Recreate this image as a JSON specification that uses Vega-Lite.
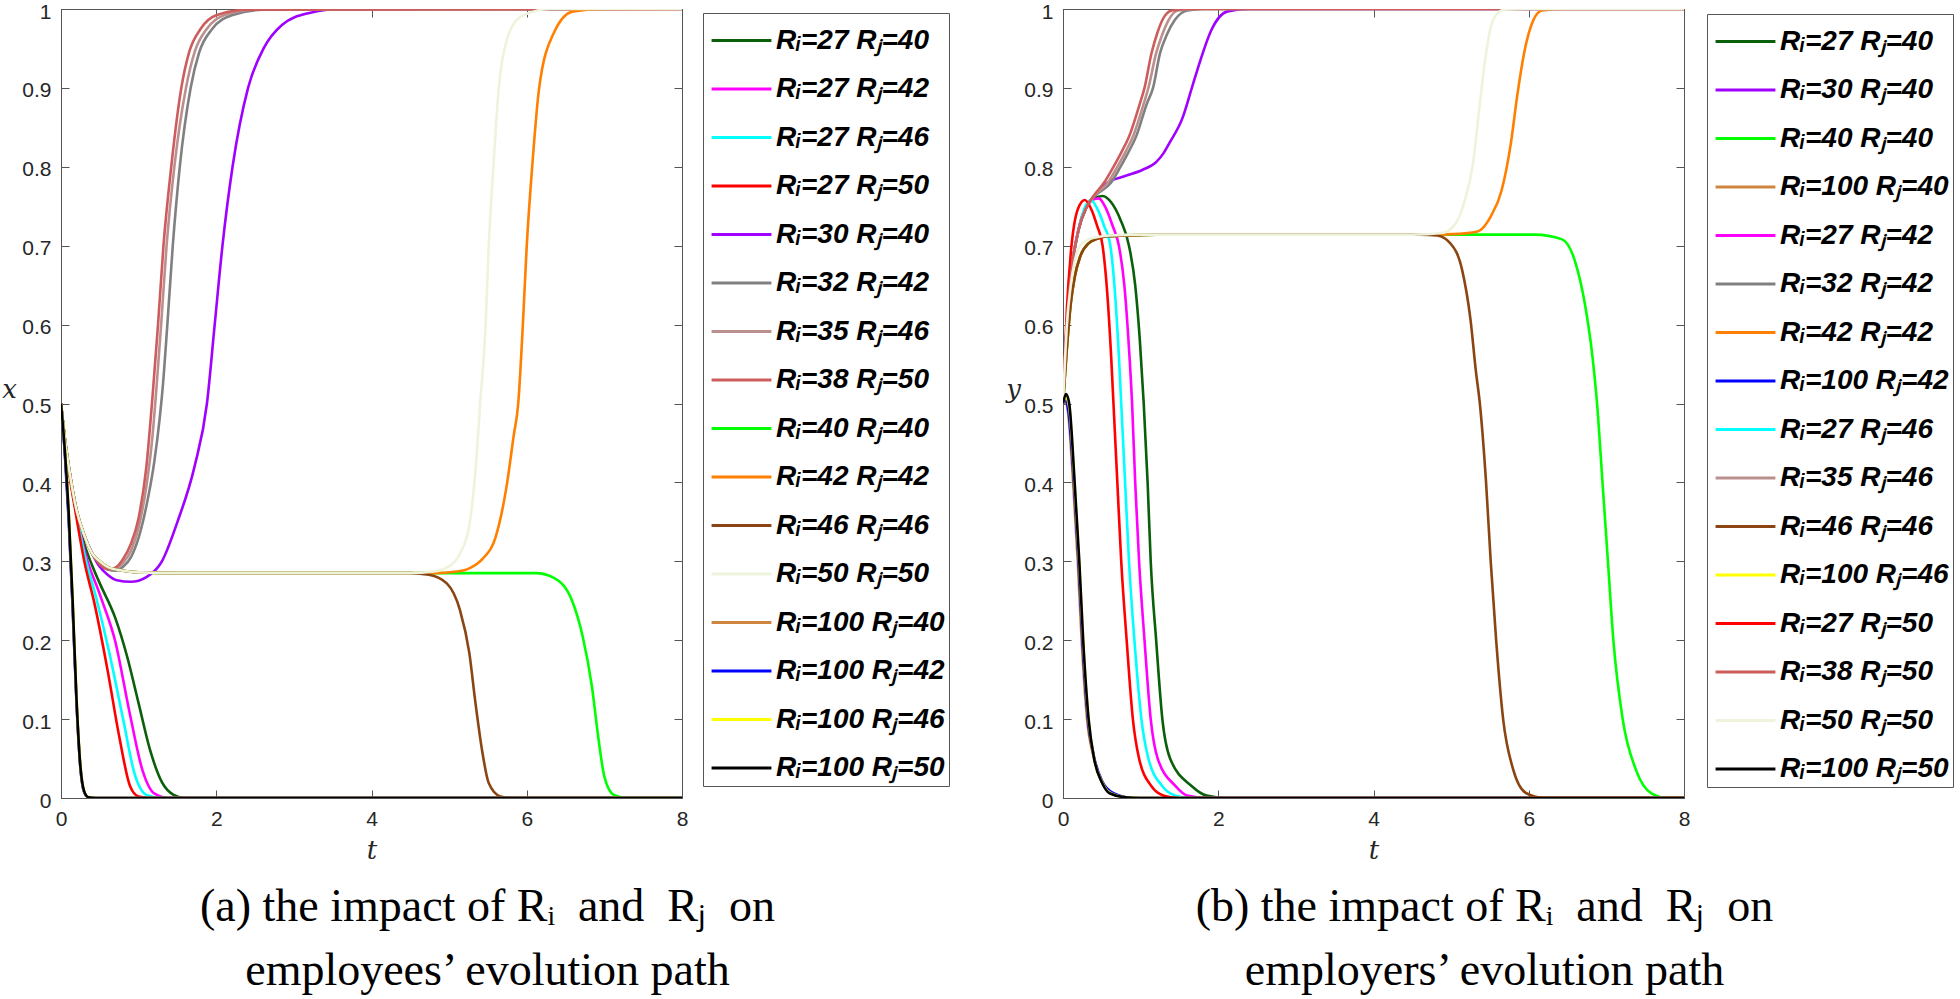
{
"$schema": "https://vega.github.io/schema/vega-lite/v6.json",
"padding": {"left": 1, "top": 0, "right": 0, "bottom": 0},
"background": "white",
"spacing": 55,
"config": {
 "view": {"stroke": "#555", "strokeWidth": 1},
 "axis": {"grid": false, "domainColor": "#555", "tickColor": "#555", "labelFont": "Liberation Sans", "labelFontSize": 21, "labelColor": "#262626", "tickSize": -8, "labelPadding": 18, "labelFlush": false, "labelOverlap": false, "titleFont": "DejaVu Serif", "titleFontStyle": "italic", "titleFontWeight": "normal", "titleFontSize": 26, "titleColor": "#262626", "format": "~g"},
 "legend": {"strokeColor": "#555", "fillColor": "white", "padding": 3.5, "symbolType": "M-1.33,0H1.33", "symbolSize": 2025, "symbolStrokeWidth": 3, "symbolOffset": 11, "labelOffset": 10.5, "rowPadding": 10.5, "labelFont": "Liberation Sans", "labelFontSize": 28, "labelFontWeight": "bold", "labelFontStyle": "italic", "labelColor": "black", "labelLimit": 0, "symbolLimit": 0},
 "title": {"font": "Liberation Serif", "fontSize": 46, "fontWeight": "normal", "color": "black", "lineHeight": 64, "orient": "bottom", "anchor": "middle", "baseline": "top", "offset": 22}
},
"datasets": {
"a": [
{"s":"27-40","t":0,"v":0.5},{"s":"27-40","t":0.05,"v":0.455},{"s":"27-40","t":0.1,"v":0.42},{"s":"27-40","t":0.2,"v":0.364},{"s":"27-40","t":0.3,"v":0.322},{"s":"27-40","t":0.4,"v":0.295},{"s":"27-40","t":0.5,"v":0.272},{"s":"27-40","t":0.7,"v":0.228},{"s":"27-40","t":0.85,"v":0.18},{"s":"27-40","t":1.0,"v":0.12},{"s":"27-40","t":1.15,"v":0.06},{"s":"27-40","t":1.3,"v":0.02},{"s":"27-40","t":1.45,"v":0.004},{"s":"27-40","t":1.6,"v":0},{"s":"27-40","t":8,"v":0},
{"s":"27-42","t":0,"v":0.5},{"s":"27-42","t":0.05,"v":0.455},{"s":"27-42","t":0.1,"v":0.419},{"s":"27-42","t":0.2,"v":0.362},{"s":"27-42","t":0.3,"v":0.315},{"s":"27-42","t":0.5,"v":0.258},{"s":"27-42","t":0.7,"v":0.198},{"s":"27-42","t":0.88,"v":0.11},{"s":"27-42","t":1.05,"v":0.035},{"s":"27-42","t":1.2,"v":0.006},{"s":"27-42","t":1.4,"v":0},{"s":"27-42","t":8,"v":0},
{"s":"27-46","t":0,"v":0.5},{"s":"27-46","t":0.05,"v":0.455},{"s":"27-46","t":0.1,"v":0.418},{"s":"27-46","t":0.2,"v":0.36},{"s":"27-46","t":0.3,"v":0.31},{"s":"27-46","t":0.45,"v":0.255},{"s":"27-46","t":0.62,"v":0.185},{"s":"27-46","t":0.8,"v":0.1},{"s":"27-46","t":0.95,"v":0.03},{"s":"27-46","t":1.1,"v":0.004},{"s":"27-46","t":1.3,"v":0},{"s":"27-46","t":8,"v":0},
{"s":"27-50","t":0,"v":0.5},{"s":"27-50","t":0.05,"v":0.452},{"s":"27-50","t":0.1,"v":0.415},{"s":"27-50","t":0.2,"v":0.355},{"s":"27-50","t":0.3,"v":0.3},{"s":"27-50","t":0.43,"v":0.247},{"s":"27-50","t":0.6,"v":0.162},{"s":"27-50","t":0.75,"v":0.078},{"s":"27-50","t":0.89,"v":0.015},{"s":"27-50","t":1.0,"v":0.002},{"s":"27-50","t":1.2,"v":0},{"s":"27-50","t":8,"v":0},
{"s":"30-40","t":0,"v":0.5},{"s":"30-40","t":0.05,"v":0.455},{"s":"30-40","t":0.1,"v":0.42},{"s":"30-40","t":0.2,"v":0.365},{"s":"30-40","t":0.3,"v":0.333},{"s":"30-40","t":0.4,"v":0.31},{"s":"30-40","t":0.5,"v":0.293},{"s":"30-40","t":0.6,"v":0.283},{"s":"30-40","t":0.72,"v":0.276},{"s":"30-40","t":0.9,"v":0.274},{"s":"30-40","t":1.1,"v":0.28},{"s":"30-40","t":1.3,"v":0.3},{"s":"30-40","t":1.5,"v":0.35},{"s":"30-40","t":1.72,"v":0.42},{"s":"30-40","t":1.88,"v":0.5},{"s":"30-40","t":1.98,"v":0.6},{"s":"30-40","t":2.08,"v":0.7},{"s":"30-40","t":2.21,"v":0.8},{"s":"30-40","t":2.41,"v":0.9},{"s":"30-40","t":2.61,"v":0.95},{"s":"30-40","t":2.85,"v":0.98},{"s":"30-40","t":3.2,"v":0.995},{"s":"30-40","t":3.6,"v":1},{"s":"30-40","t":8,"v":1},
{"s":"32-42","t":0,"v":0.5},{"s":"32-42","t":0.05,"v":0.455},{"s":"32-42","t":0.1,"v":0.42},{"s":"32-42","t":0.2,"v":0.365},{"s":"32-42","t":0.3,"v":0.333},{"s":"32-42","t":0.4,"v":0.31},{"s":"32-42","t":0.5,"v":0.297},{"s":"32-42","t":0.6,"v":0.29},{"s":"32-42","t":0.7,"v":0.288},{"s":"32-42","t":0.8,"v":0.293},{"s":"32-42","t":0.9,"v":0.305},{"s":"32-42","t":1.0,"v":0.33},{"s":"32-42","t":1.1,"v":0.37},{"s":"32-42","t":1.2,"v":0.425},{"s":"32-42","t":1.27,"v":0.48},{"s":"32-42","t":1.31,"v":0.52},{"s":"32-42","t":1.37,"v":0.6},{"s":"32-42","t":1.44,"v":0.7},{"s":"32-42","t":1.53,"v":0.8},{"s":"32-42","t":1.67,"v":0.9},{"s":"32-42","t":1.78,"v":0.945},{"s":"32-42","t":1.95,"v":0.975},{"s":"32-42","t":2.2,"v":0.992},{"s":"32-42","t":2.6,"v":0.999},{"s":"32-42","t":8,"v":1},
{"s":"35-46","t":0,"v":0.5},{"s":"35-46","t":0.05,"v":0.455},{"s":"35-46","t":0.1,"v":0.42},{"s":"35-46","t":0.2,"v":0.365},{"s":"35-46","t":0.3,"v":0.333},{"s":"35-46","t":0.4,"v":0.31},{"s":"35-46","t":0.5,"v":0.297},{"s":"35-46","t":0.6,"v":0.29},{"s":"35-46","t":0.7,"v":0.29},{"s":"35-46","t":0.8,"v":0.298},{"s":"35-46","t":0.9,"v":0.313},{"s":"35-46","t":1.0,"v":0.343},{"s":"35-46","t":1.1,"v":0.395},{"s":"35-46","t":1.17,"v":0.45},{"s":"35-46","t":1.23,"v":0.52},{"s":"35-46","t":1.29,"v":0.6},{"s":"35-46","t":1.36,"v":0.7},{"s":"35-46","t":1.46,"v":0.8},{"s":"35-46","t":1.61,"v":0.9},{"s":"35-46","t":1.72,"v":0.945},{"s":"35-46","t":1.88,"v":0.975},{"s":"35-46","t":2.1,"v":0.992},{"s":"35-46","t":2.5,"v":0.999},{"s":"35-46","t":8,"v":1},
{"s":"38-50","t":0,"v":0.5},{"s":"38-50","t":0.05,"v":0.455},{"s":"38-50","t":0.1,"v":0.42},{"s":"38-50","t":0.2,"v":0.365},{"s":"38-50","t":0.3,"v":0.333},{"s":"38-50","t":0.4,"v":0.31},{"s":"38-50","t":0.5,"v":0.296},{"s":"38-50","t":0.6,"v":0.29},{"s":"38-50","t":0.7,"v":0.292},{"s":"38-50","t":0.8,"v":0.303},{"s":"38-50","t":0.9,"v":0.322},{"s":"38-50","t":1.0,"v":0.355},{"s":"38-50","t":1.1,"v":0.42},{"s":"38-50","t":1.18,"v":0.51},{"s":"38-50","t":1.25,"v":0.6},{"s":"38-50","t":1.32,"v":0.7},{"s":"38-50","t":1.42,"v":0.8},{"s":"38-50","t":1.55,"v":0.9},{"s":"38-50","t":1.65,"v":0.945},{"s":"38-50","t":1.8,"v":0.975},{"s":"38-50","t":2.0,"v":0.992},{"s":"38-50","t":2.4,"v":0.999},{"s":"38-50","t":8,"v":1},
{"s":"40-40","t":0,"v":0.5},{"s":"40-40","t":0.05,"v":0.455},{"s":"40-40","t":0.1,"v":0.42},{"s":"40-40","t":0.2,"v":0.365},{"s":"40-40","t":0.3,"v":0.333},{"s":"40-40","t":0.4,"v":0.31},{"s":"40-40","t":0.5,"v":0.3},{"s":"40-40","t":0.6,"v":0.293},{"s":"40-40","t":0.8,"v":0.288},{"s":"40-40","t":1.0,"v":0.286},{"s":"40-40","t":1.5,"v":0.285},{"s":"40-40","t":3,"v":0.285},{"s":"40-40","t":5,"v":0.285},{"s":"40-40","t":6.12,"v":0.285},{"s":"40-40","t":6.35,"v":0.279},{"s":"40-40","t":6.58,"v":0.251},{"s":"40-40","t":6.72,"v":0.205},{"s":"40-40","t":6.84,"v":0.141},{"s":"40-40","t":6.92,"v":0.078},{"s":"40-40","t":7.0,"v":0.027},{"s":"40-40","t":7.12,"v":0.004},{"s":"40-40","t":7.3,"v":0},{"s":"40-40","t":8,"v":0},
{"s":"42-42","t":0,"v":0.5},{"s":"42-42","t":0.05,"v":0.455},{"s":"42-42","t":0.1,"v":0.42},{"s":"42-42","t":0.2,"v":0.365},{"s":"42-42","t":0.3,"v":0.333},{"s":"42-42","t":0.4,"v":0.31},{"s":"42-42","t":0.5,"v":0.3},{"s":"42-42","t":0.6,"v":0.293},{"s":"42-42","t":0.8,"v":0.288},{"s":"42-42","t":1.0,"v":0.286},{"s":"42-42","t":1.5,"v":0.285},{"s":"42-42","t":3,"v":0.285},{"s":"42-42","t":4.8,"v":0.285},{"s":"42-42","t":5.1,"v":0.287},{"s":"42-42","t":5.26,"v":0.291},{"s":"42-42","t":5.43,"v":0.303},{"s":"42-42","t":5.6,"v":0.331},{"s":"42-42","t":5.74,"v":0.395},{"s":"42-42","t":5.83,"v":0.458},{"s":"42-42","t":5.89,"v":0.5},{"s":"42-42","t":5.95,"v":0.6},{"s":"42-42","t":6.0,"v":0.7},{"s":"42-42","t":6.07,"v":0.8},{"s":"42-42","t":6.16,"v":0.9},{"s":"42-42","t":6.35,"v":0.97},{"s":"42-42","t":6.6,"v":0.997},{"s":"42-42","t":7,"v":1},{"s":"42-42","t":8,"v":1},
{"s":"46-46","t":0,"v":0.5},{"s":"46-46","t":0.05,"v":0.455},{"s":"46-46","t":0.1,"v":0.42},{"s":"46-46","t":0.2,"v":0.365},{"s":"46-46","t":0.3,"v":0.333},{"s":"46-46","t":0.4,"v":0.31},{"s":"46-46","t":0.5,"v":0.3},{"s":"46-46","t":0.6,"v":0.293},{"s":"46-46","t":0.8,"v":0.288},{"s":"46-46","t":1.0,"v":0.286},{"s":"46-46","t":1.5,"v":0.285},{"s":"46-46","t":3,"v":0.285},{"s":"46-46","t":4.5,"v":0.285},{"s":"46-46","t":4.74,"v":0.283},{"s":"46-46","t":4.97,"v":0.272},{"s":"46-46","t":5.14,"v":0.238},{"s":"46-46","t":5.26,"v":0.184},{"s":"46-46","t":5.34,"v":0.12},{"s":"46-46","t":5.43,"v":0.057},{"s":"46-46","t":5.51,"v":0.019},{"s":"46-46","t":5.66,"v":0.002},{"s":"46-46","t":5.8,"v":0},{"s":"46-46","t":8,"v":0},
{"s":"50-50","t":0,"v":0.5},{"s":"50-50","t":0.05,"v":0.455},{"s":"50-50","t":0.1,"v":0.42},{"s":"50-50","t":0.2,"v":0.365},{"s":"50-50","t":0.3,"v":0.333},{"s":"50-50","t":0.4,"v":0.31},{"s":"50-50","t":0.5,"v":0.3},{"s":"50-50","t":0.6,"v":0.293},{"s":"50-50","t":0.8,"v":0.288},{"s":"50-50","t":1.0,"v":0.286},{"s":"50-50","t":1.5,"v":0.285},{"s":"50-50","t":3,"v":0.285},{"s":"50-50","t":4.5,"v":0.285},{"s":"50-50","t":4.8,"v":0.287},{"s":"50-50","t":4.97,"v":0.292},{"s":"50-50","t":5.14,"v":0.31},{"s":"50-50","t":5.26,"v":0.345},{"s":"50-50","t":5.34,"v":0.416},{"s":"50-50","t":5.4,"v":0.5},{"s":"50-50","t":5.47,"v":0.6},{"s":"50-50","t":5.51,"v":0.7},{"s":"50-50","t":5.57,"v":0.8},{"s":"50-50","t":5.64,"v":0.9},{"s":"50-50","t":5.74,"v":0.96},{"s":"50-50","t":5.92,"v":0.99},{"s":"50-50","t":6.3,"v":1},{"s":"50-50","t":8,"v":1},
{"s":"100-40","t":0,"v":0.5},{"s":"100-40","t":0.05,"v":0.438},{"s":"100-40","t":0.1,"v":0.355},{"s":"100-40","t":0.15,"v":0.245},{"s":"100-40","t":0.2,"v":0.122},{"s":"100-40","t":0.25,"v":0.039},{"s":"100-40","t":0.3,"v":0.007},{"s":"100-40","t":0.35,"v":0.001},{"s":"100-40","t":0.45,"v":0},{"s":"100-40","t":8,"v":0},
{"s":"100-42","t":0,"v":0.5},{"s":"100-42","t":0.05,"v":0.435},{"s":"100-42","t":0.1,"v":0.35},{"s":"100-42","t":0.15,"v":0.24},{"s":"100-42","t":0.2,"v":0.12},{"s":"100-42","t":0.25,"v":0.038},{"s":"100-42","t":0.3,"v":0.007},{"s":"100-42","t":0.35,"v":0.001},{"s":"100-42","t":0.45,"v":0},{"s":"100-42","t":8,"v":0},
{"s":"100-46","t":0,"v":0.5},{"s":"100-46","t":0.05,"v":0.442},{"s":"100-46","t":0.1,"v":0.362},{"s":"100-46","t":0.15,"v":0.252},{"s":"100-46","t":0.2,"v":0.127},{"s":"100-46","t":0.25,"v":0.041},{"s":"100-46","t":0.3,"v":0.008},{"s":"100-46","t":0.35,"v":0.001},{"s":"100-46","t":0.45,"v":0},{"s":"100-46","t":8,"v":0},
{"s":"100-50","t":0,"v":0.5},{"s":"100-50","t":0.05,"v":0.44},{"s":"100-50","t":0.1,"v":0.36},{"s":"100-50","t":0.15,"v":0.25},{"s":"100-50","t":0.2,"v":0.125},{"s":"100-50","t":0.25,"v":0.04},{"s":"100-50","t":0.3,"v":0.008},{"s":"100-50","t":0.35,"v":0.001},{"s":"100-50","t":0.45,"v":0},{"s":"100-50","t":8,"v":0}
],
"b": [
{"s":"27-40","t":0,"v":0.5},{"s":"27-40","t":0.05,"v":0.6},{"s":"27-40","t":0.1,"v":0.66},{"s":"27-40","t":0.2,"v":0.72},{"s":"27-40","t":0.3,"v":0.75},{"s":"27-40","t":0.4,"v":0.76},{"s":"27-40","t":0.51,"v":0.763},{"s":"27-40","t":0.62,"v":0.755},{"s":"27-40","t":0.74,"v":0.733},{"s":"27-40","t":0.85,"v":0.7},{"s":"27-40","t":0.93,"v":0.65},{"s":"27-40","t":0.99,"v":0.58},{"s":"27-40","t":1.04,"v":0.5},{"s":"27-40","t":1.09,"v":0.4},{"s":"27-40","t":1.13,"v":0.3},{"s":"27-40","t":1.2,"v":0.2},{"s":"27-40","t":1.28,"v":0.1},{"s":"27-40","t":1.38,"v":0.05},{"s":"27-40","t":1.66,"v":0.015},{"s":"27-40","t":1.85,"v":0.003},{"s":"27-40","t":2.1,"v":0},{"s":"27-40","t":8,"v":0},
{"s":"30-40","t":0,"v":0.5},{"s":"30-40","t":0.05,"v":0.6},{"s":"30-40","t":0.1,"v":0.66},{"s":"30-40","t":0.2,"v":0.72},{"s":"30-40","t":0.3,"v":0.748},{"s":"30-40","t":0.4,"v":0.762},{"s":"30-40","t":0.56,"v":0.779},{"s":"30-40","t":0.79,"v":0.788},{"s":"30-40","t":1.02,"v":0.796},{"s":"30-40","t":1.2,"v":0.806},{"s":"30-40","t":1.3,"v":0.818},{"s":"30-40","t":1.37,"v":0.83},{"s":"30-40","t":1.54,"v":0.862},{"s":"30-40","t":1.66,"v":0.9},{"s":"30-40","t":1.77,"v":0.935},{"s":"30-40","t":1.91,"v":0.973},{"s":"30-40","t":2.12,"v":0.997},{"s":"30-40","t":2.4,"v":1},{"s":"30-40","t":8,"v":1},
{"s":"40-40","t":0,"v":0.5},{"s":"40-40","t":0.05,"v":0.57},{"s":"40-40","t":0.1,"v":0.627},{"s":"40-40","t":0.15,"v":0.66},{"s":"40-40","t":0.22,"v":0.686},{"s":"40-40","t":0.33,"v":0.703},{"s":"40-40","t":0.45,"v":0.709},{"s":"40-40","t":0.56,"v":0.712},{"s":"40-40","t":0.8,"v":0.713},{"s":"40-40","t":1.2,"v":0.714},{"s":"40-40","t":3,"v":0.714},{"s":"40-40","t":6.08,"v":0.714},{"s":"40-40","t":6.43,"v":0.708},{"s":"40-40","t":6.6,"v":0.679},{"s":"40-40","t":6.72,"v":0.628},{"s":"40-40","t":6.82,"v":0.56},{"s":"40-40","t":6.88,"v":0.5},{"s":"40-40","t":6.95,"v":0.4},{"s":"40-40","t":7.02,"v":0.3},{"s":"40-40","t":7.09,"v":0.2},{"s":"40-40","t":7.21,"v":0.1},{"s":"40-40","t":7.38,"v":0.036},{"s":"40-40","t":7.58,"v":0.006},{"s":"40-40","t":7.8,"v":0},{"s":"40-40","t":8,"v":0},
{"s":"100-40","t":0,"v":0.5},{"s":"100-40","t":0.03,"v":0.503},{"s":"100-40","t":0.07,"v":0.485},{"s":"100-40","t":0.13,"v":0.4},{"s":"100-40","t":0.19,"v":0.3},{"s":"100-40","t":0.24,"v":0.2},{"s":"100-40","t":0.31,"v":0.1},{"s":"100-40","t":0.4,"v":0.05},{"s":"100-40","t":0.5,"v":0.02},{"s":"100-40","t":0.65,"v":0.005},{"s":"100-40","t":0.9,"v":0},{"s":"100-40","t":8,"v":0},
{"s":"27-42","t":0,"v":0.5},{"s":"27-42","t":0.05,"v":0.6},{"s":"27-42","t":0.1,"v":0.66},{"s":"27-42","t":0.2,"v":0.72},{"s":"27-42","t":0.3,"v":0.75},{"s":"27-42","t":0.38,"v":0.758},{"s":"27-42","t":0.46,"v":0.76},{"s":"27-42","t":0.55,"v":0.748},{"s":"27-42","t":0.64,"v":0.725},{"s":"27-42","t":0.72,"v":0.7},{"s":"27-42","t":0.79,"v":0.65},{"s":"27-42","t":0.85,"v":0.57},{"s":"27-42","t":0.89,"v":0.5},{"s":"27-42","t":0.93,"v":0.4},{"s":"27-42","t":0.98,"v":0.3},{"s":"27-42","t":1.05,"v":0.2},{"s":"27-42","t":1.13,"v":0.1},{"s":"27-42","t":1.22,"v":0.05},{"s":"27-42","t":1.45,"v":0.015},{"s":"27-42","t":1.6,"v":0.003},{"s":"27-42","t":1.85,"v":0},{"s":"27-42","t":8,"v":0},
{"s":"32-42","t":0,"v":0.5},{"s":"32-42","t":0.05,"v":0.6},{"s":"32-42","t":0.1,"v":0.66},{"s":"32-42","t":0.2,"v":0.72},{"s":"32-42","t":0.3,"v":0.748},{"s":"32-42","t":0.4,"v":0.762},{"s":"32-42","t":0.62,"v":0.78},{"s":"32-42","t":0.74,"v":0.8},{"s":"32-42","t":0.84,"v":0.818},{"s":"32-42","t":0.94,"v":0.838},{"s":"32-42","t":1.08,"v":0.88},{"s":"32-42","t":1.16,"v":0.9},{"s":"32-42","t":1.25,"v":0.944},{"s":"32-42","t":1.34,"v":0.968},{"s":"32-42","t":1.44,"v":0.986},{"s":"32-42","t":1.6,"v":0.998},{"s":"32-42","t":1.8,"v":1},{"s":"32-42","t":8,"v":1},
{"s":"42-42","t":0,"v":0.5},{"s":"42-42","t":0.05,"v":0.57},{"s":"42-42","t":0.1,"v":0.627},{"s":"42-42","t":0.15,"v":0.66},{"s":"42-42","t":0.22,"v":0.686},{"s":"42-42","t":0.33,"v":0.703},{"s":"42-42","t":0.45,"v":0.709},{"s":"42-42","t":0.56,"v":0.712},{"s":"42-42","t":0.8,"v":0.713},{"s":"42-42","t":1.2,"v":0.714},{"s":"42-42","t":3,"v":0.714},{"s":"42-42","t":4.8,"v":0.714},{"s":"42-42","t":5.1,"v":0.715},{"s":"42-42","t":5.34,"v":0.718},{"s":"42-42","t":5.51,"v":0.737},{"s":"42-42","t":5.65,"v":0.77},{"s":"42-42","t":5.77,"v":0.83},{"s":"42-42","t":5.85,"v":0.889},{"s":"42-42","t":5.94,"v":0.944},{"s":"42-42","t":6.06,"v":0.986},{"s":"42-42","t":6.17,"v":0.998},{"s":"42-42","t":6.4,"v":1},{"s":"42-42","t":8,"v":1},
{"s":"100-42","t":0,"v":0.5},{"s":"100-42","t":0.03,"v":0.505},{"s":"100-42","t":0.07,"v":0.49},{"s":"100-42","t":0.14,"v":0.4},{"s":"100-42","t":0.2,"v":0.3},{"s":"100-42","t":0.25,"v":0.2},{"s":"100-42","t":0.32,"v":0.1},{"s":"100-42","t":0.4,"v":0.052},{"s":"100-42","t":0.5,"v":0.022},{"s":"100-42","t":0.65,"v":0.006},{"s":"100-42","t":0.9,"v":0},{"s":"100-42","t":8,"v":0},
{"s":"27-46","t":0,"v":0.5},{"s":"27-46","t":0.05,"v":0.6},{"s":"27-46","t":0.1,"v":0.66},{"s":"27-46","t":0.2,"v":0.72},{"s":"27-46","t":0.28,"v":0.748},{"s":"27-46","t":0.36,"v":0.758},{"s":"27-46","t":0.45,"v":0.745},{"s":"27-46","t":0.53,"v":0.725},{"s":"27-46","t":0.61,"v":0.7},{"s":"27-46","t":0.67,"v":0.64},{"s":"27-46","t":0.72,"v":0.56},{"s":"27-46","t":0.76,"v":0.48},{"s":"27-46","t":0.8,"v":0.4},{"s":"27-46","t":0.85,"v":0.3},{"s":"27-46","t":0.92,"v":0.2},{"s":"27-46","t":1.01,"v":0.1},{"s":"27-46","t":1.1,"v":0.05},{"s":"27-46","t":1.28,"v":0.015},{"s":"27-46","t":1.45,"v":0.003},{"s":"27-46","t":1.65,"v":0},{"s":"27-46","t":8,"v":0},
{"s":"35-46","t":0,"v":0.5},{"s":"35-46","t":0.05,"v":0.6},{"s":"35-46","t":0.1,"v":0.66},{"s":"35-46","t":0.2,"v":0.72},{"s":"35-46","t":0.3,"v":0.748},{"s":"35-46","t":0.4,"v":0.763},{"s":"35-46","t":0.58,"v":0.78},{"s":"35-46","t":0.7,"v":0.8},{"s":"35-46","t":0.8,"v":0.818},{"s":"35-46","t":0.9,"v":0.838},{"s":"35-46","t":1.04,"v":0.88},{"s":"35-46","t":1.1,"v":0.9},{"s":"35-46","t":1.2,"v":0.944},{"s":"35-46","t":1.28,"v":0.968},{"s":"35-46","t":1.36,"v":0.986},{"s":"35-46","t":1.48,"v":0.998},{"s":"35-46","t":1.7,"v":1},{"s":"35-46","t":8,"v":1},
{"s":"46-46","t":0,"v":0.5},{"s":"46-46","t":0.05,"v":0.57},{"s":"46-46","t":0.1,"v":0.627},{"s":"46-46","t":0.15,"v":0.66},{"s":"46-46","t":0.22,"v":0.686},{"s":"46-46","t":0.33,"v":0.703},{"s":"46-46","t":0.45,"v":0.709},{"s":"46-46","t":0.56,"v":0.712},{"s":"46-46","t":0.8,"v":0.713},{"s":"46-46","t":1.2,"v":0.714},{"s":"46-46","t":3,"v":0.714},{"s":"46-46","t":4.6,"v":0.714},{"s":"46-46","t":4.82,"v":0.713},{"s":"46-46","t":4.99,"v":0.703},{"s":"46-46","t":5.14,"v":0.67},{"s":"46-46","t":5.25,"v":0.606},{"s":"46-46","t":5.32,"v":0.54},{"s":"46-46","t":5.37,"v":0.5},{"s":"46-46","t":5.45,"v":0.4},{"s":"46-46","t":5.51,"v":0.3},{"s":"46-46","t":5.58,"v":0.2},{"s":"46-46","t":5.67,"v":0.1},{"s":"46-46","t":5.8,"v":0.036},{"s":"46-46","t":5.97,"v":0.006},{"s":"46-46","t":6.2,"v":0},{"s":"46-46","t":8,"v":0},
{"s":"100-46","t":0,"v":0.5},{"s":"100-46","t":0.04,"v":0.508},{"s":"100-46","t":0.08,"v":0.495},{"s":"100-46","t":0.15,"v":0.395},{"s":"100-46","t":0.21,"v":0.295},{"s":"100-46","t":0.26,"v":0.197},{"s":"100-46","t":0.33,"v":0.098},{"s":"100-46","t":0.4,"v":0.05},{"s":"100-46","t":0.5,"v":0.021},{"s":"100-46","t":0.6,"v":0.007},{"s":"100-46","t":0.8,"v":0.001},{"s":"100-46","t":1.0,"v":0},{"s":"100-46","t":8,"v":0},
{"s":"27-50","t":0,"v":0.5},{"s":"27-50","t":0.05,"v":0.62},{"s":"27-50","t":0.1,"v":0.69},{"s":"27-50","t":0.19,"v":0.746},{"s":"27-50","t":0.28,"v":0.758},{"s":"27-50","t":0.37,"v":0.745},{"s":"27-50","t":0.44,"v":0.725},{"s":"27-50","t":0.51,"v":0.7},{"s":"27-50","t":0.57,"v":0.64},{"s":"27-50","t":0.62,"v":0.56},{"s":"27-50","t":0.66,"v":0.48},{"s":"27-50","t":0.7,"v":0.4},{"s":"27-50","t":0.75,"v":0.3},{"s":"27-50","t":0.82,"v":0.2},{"s":"27-50","t":0.9,"v":0.1},{"s":"27-50","t":0.98,"v":0.05},{"s":"27-50","t":1.14,"v":0.015},{"s":"27-50","t":1.3,"v":0.003},{"s":"27-50","t":1.5,"v":0},{"s":"27-50","t":8,"v":0},
{"s":"38-50","t":0,"v":0.5},{"s":"38-50","t":0.05,"v":0.6},{"s":"38-50","t":0.1,"v":0.66},{"s":"38-50","t":0.2,"v":0.72},{"s":"38-50","t":0.3,"v":0.748},{"s":"38-50","t":0.4,"v":0.764},{"s":"38-50","t":0.53,"v":0.78},{"s":"38-50","t":0.65,"v":0.8},{"s":"38-50","t":0.75,"v":0.818},{"s":"38-50","t":0.85,"v":0.838},{"s":"38-50","t":0.99,"v":0.88},{"s":"38-50","t":1.05,"v":0.9},{"s":"38-50","t":1.14,"v":0.944},{"s":"38-50","t":1.21,"v":0.968},{"s":"38-50","t":1.28,"v":0.986},{"s":"38-50","t":1.4,"v":0.998},{"s":"38-50","t":1.6,"v":1},{"s":"38-50","t":8,"v":1},
{"s":"50-50","t":0,"v":0.5},{"s":"50-50","t":0.05,"v":0.6},{"s":"50-50","t":0.1,"v":0.65},{"s":"50-50","t":0.15,"v":0.68},{"s":"50-50","t":0.22,"v":0.7},{"s":"50-50","t":0.33,"v":0.708},{"s":"50-50","t":0.45,"v":0.711},{"s":"50-50","t":0.6,"v":0.713},{"s":"50-50","t":1,"v":0.714},{"s":"50-50","t":3,"v":0.714},{"s":"50-50","t":4.5,"v":0.714},{"s":"50-50","t":4.88,"v":0.716},{"s":"50-50","t":5.05,"v":0.727},{"s":"50-50","t":5.16,"v":0.752},{"s":"50-50","t":5.28,"v":0.803},{"s":"50-50","t":5.37,"v":0.88},{"s":"50-50","t":5.45,"v":0.944},{"s":"50-50","t":5.54,"v":0.986},{"s":"50-50","t":5.68,"v":0.999},{"s":"50-50","t":6,"v":1},{"s":"50-50","t":8,"v":1},
{"s":"100-50","t":0,"v":0.5},{"s":"100-50","t":0.04,"v":0.512},{"s":"100-50","t":0.08,"v":0.5},{"s":"100-50","t":0.15,"v":0.4},{"s":"100-50","t":0.21,"v":0.3},{"s":"100-50","t":0.26,"v":0.2},{"s":"100-50","t":0.33,"v":0.1},{"s":"100-50","t":0.4,"v":0.05},{"s":"100-50","t":0.5,"v":0.02},{"s":"100-50","t":0.6,"v":0.006},{"s":"100-50","t":0.8,"v":0.001},{"s":"100-50","t":1.0,"v":0},{"s":"100-50","t":8,"v":0}
]
},
"hconcat": [
{
 "width": 621, "height": 789,
 "title": {"text": ["(a) the impact of Rᵢ\u00a0 and\u00a0 Rⱼ\u00a0 on", "employees’ evolution path"], "dx": 116},
 "layer": [
  {"data": {"name": "a"},
   "mark": {"type": "line", "strokeWidth": 2.6, "interpolate": "monotone", "clip": true},
   "encoding": {
    "x": {"field": "t", "type": "quantitative", "scale": {"domain": [0, 8], "nice": false}, "axis": {"values": [0, 2, 4, 6, 8], "title": "t", "titleY": 60, "titleBaseline": "alphabetic"}},
    "y": {"field": "v", "type": "quantitative", "scale": {"domain": [0, 1], "nice": false}, "axis": {"values": [0, 0.1, 0.2, 0.3, 0.4, 0.5, 0.6, 0.7, 0.8, 0.9, 1], "labelOffset": 3, "title": "x", "titleAngle": 0, "titleX": -52, "titleY": 388, "titleAlign": "center", "titleBaseline": "alphabetic"}},
    "color": {"field": "s", "type": "nominal", "sort": null,
     "scale": {"domain": ["27-40","27-42","27-46","27-50","30-40","32-42","35-46","38-50","40-40","42-42","46-46","50-50","100-40","100-42","100-46","100-50"],
               "range": ["#0a5f0a","#ff00ff","#00ffff","#ff0000","#a000ff","#808080","#bc8f8f","#cd5c5c","#00ff00","#ff7f00","#8b4513","#eef3dc","#cd853f","#0000ff","#ffff00","#000000"]},
     "legend": {"title": null, "orient": "none", "legendX": 642, "legendY": 4, "labelExpr": "'Rᵢ=' + split(datum.label, '-')[0] + ' Rⱼ=' + split(datum.label, '-')[1]"}}
   }},
  {"data": {"name": "a"},
   "mark": {"type": "point", "opacity": 0},
   "encoding": {
    "x": {"field": "t", "type": "quantitative", "scale": {"domain": [0, 8], "nice": false}, "axis": {"orient": "top", "values": [0, 2, 4, 6, 8], "labels": false, "title": null}},
    "y": {"field": "v", "type": "quantitative", "scale": {"domain": [0, 1], "nice": false}, "axis": {"orient": "right", "values": [0, 0.1, 0.2, 0.3, 0.4, 0.5, 0.6, 0.7, 0.8, 0.9, 1], "labels": false, "title": null}}
   }}
 ],
 "resolve": {"axis": {"x": "independent", "y": "independent"}}
},
{
 "width": 621, "height": 789,
 "title": {"text": ["(b) the impact of Rᵢ\u00a0 and\u00a0 Rⱼ\u00a0 on", "employers’ evolution path"], "dx": 111},
 "layer": [
  {"data": {"name": "b"},
   "mark": {"type": "line", "strokeWidth": 2.6, "interpolate": "monotone", "clip": true},
   "encoding": {
    "x": {"field": "t", "type": "quantitative", "scale": {"domain": [0, 8], "nice": false}, "axis": {"values": [0, 2, 4, 6, 8], "title": "t", "titleY": 60, "titleBaseline": "alphabetic"}},
    "y": {"field": "v", "type": "quantitative", "scale": {"domain": [0, 1], "nice": false}, "axis": {"values": [0, 0.1, 0.2, 0.3, 0.4, 0.5, 0.6, 0.7, 0.8, 0.9, 1], "labelOffset": 3, "title": "y", "titleAngle": 0, "titleX": -50, "titleY": 388, "titleAlign": "center", "titleBaseline": "alphabetic"}},
    "color": {"field": "s", "type": "nominal", "sort": null,
     "scale": {"domain": ["27-40","30-40","40-40","100-40","27-42","32-42","42-42","100-42","27-46","35-46","46-46","100-46","27-50","38-50","50-50","100-50"],
               "range": ["#0a5f0a","#a000ff","#00ff00","#cd853f","#ff00ff","#808080","#ff7f00","#0000ff","#00ffff","#bc8f8f","#8b4513","#ffff00","#ff0000","#cd5c5c","#eef3dc","#000000"]},
     "legend": {"title": null, "orient": "none", "legendX": 644, "legendY": 5, "labelExpr": "'Rᵢ=' + split(datum.label, '-')[0] + ' Rⱼ=' + split(datum.label, '-')[1]"}}
   }},
  {"data": {"name": "b"},
   "mark": {"type": "point", "opacity": 0},
   "encoding": {
    "x": {"field": "t", "type": "quantitative", "scale": {"domain": [0, 8], "nice": false}, "axis": {"orient": "top", "values": [0, 2, 4, 6, 8], "labels": false, "title": null}},
    "y": {"field": "v", "type": "quantitative", "scale": {"domain": [0, 1], "nice": false}, "axis": {"orient": "right", "values": [0, 0.1, 0.2, 0.3, 0.4, 0.5, 0.6, 0.7, 0.8, 0.9, 1], "labels": false, "title": null}}
   }}
 ],
 "resolve": {"axis": {"x": "independent", "y": "independent"}}
}
],
"resolve": {"scale": {"color": "independent"}, "legend": {"color": "independent"}}
}
